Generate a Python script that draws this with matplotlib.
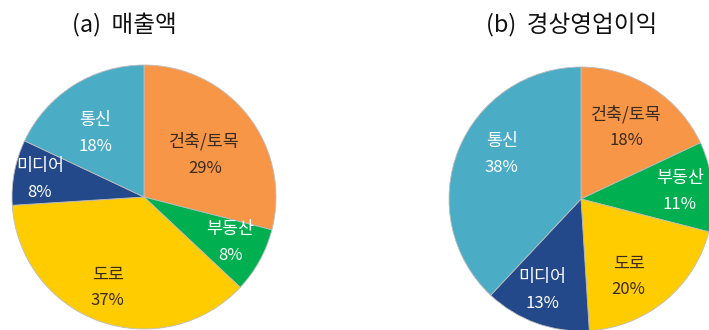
import numpy as np
import matplotlib
matplotlib.use("Agg")
import matplotlib.pyplot as plt
from matplotlib.transforms import offset_copy

plt.rcParams['font.family'] = ['Noto Sans CJK KR', 'DejaVu Sans']

# Segment shares (%), clockwise from 12 o'clock
categories = ['건축/토목', '부동산', '도로', '미디어', '통신']
sales = [29, 8, 37, 8, 18]
op_income = [18, 11, 20, 13, 38]
titles = ['(a)  매출액', '(b)  경상영업이익']

colors = ['#F79646', '#00B050', '#FFCC00', '#24498A', '#4BACC6']
text_colors = ['#3a2a20', 'white', '#3a2a20', 'white', 'white']

# Label anchor per wedge: (radius fraction, angular nudge in degrees)
label_pos_a = [(0.56, -3), (0.74, 1), (0.74, -2), (0.80, 1), (0.61, 5)]
label_pos_b = [(0.64, 0), (0.75, -1), (0.69, -8), (0.75, -3), (0.69, -8)]

W, H = 709, 330
fig = plt.figure(figsize=(W / 100, H / 100), dpi=100)


def draw_pie(cx, cy, r, values, title, title_x, label_pos):
    ax = fig.add_axes([(cx - r) / W, (H - cy - r) / H, 2 * r / W, 2 * r / H])
    wedges, _ = ax.pie(values, colors=colors, startangle=90, counterclock=False,
                       radius=1.0,
                       wedgeprops=dict(edgecolor='#bdbdbd', linewidth=0.6))
    ax.set_xlim(-1, 1)
    ax.set_ylim(-1, 1)
    ax.set_aspect('equal')
    ax.axis('off')
    up = offset_copy(ax.transData, fig=fig, x=0, y=9.5, units='points')
    down = offset_copy(ax.transData, fig=fig, x=0, y=-9.5, units='points')
    for w, name, v, tc, (rf, dth) in zip(wedges, categories, values, text_colors, label_pos):
        mid = np.deg2rad((w.theta1 + w.theta2) / 2 + dth)
        x, y = rf * np.cos(mid), rf * np.sin(mid)
        ax.text(x, y, name, transform=up, ha='center', va='center',
                fontsize=12.5, color=tc)
        ax.text(x, y, f'{v}%', transform=down, ha='center', va='center',
                fontsize=12, color=tc)
    fig.text(title_x / W, 1 - 25 / H, title, ha='center', va='center',
             fontsize=17, color='#111111')


draw_pie(144, 197, 132, sales, titles[0], 124, label_pos_a)
draw_pie(581, 199, 132, op_income, titles[1], 572, label_pos_b)

fig.savefig('out.png', dpi=100, facecolor='white')
